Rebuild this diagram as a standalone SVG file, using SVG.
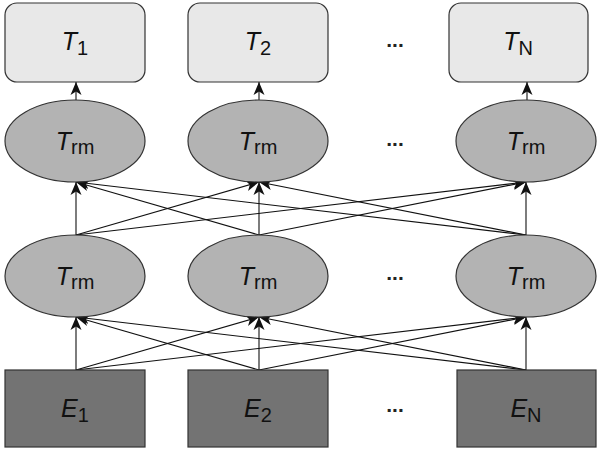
<svg xmlns="http://www.w3.org/2000/svg" width="598" height="452" viewBox="0 0 598 452">
<defs>
<marker id="ah" markerUnits="userSpaceOnUse" markerWidth="14" markerHeight="12" refX="13" refY="6" orient="auto" viewBox="0 0 14 12">
<path d="M0,0.5 L13,6 L0,11.5 L3.5,6 z" fill="#111"/>
</marker>
<style>
.out{fill:#e8e8e8;stroke:#333;stroke-width:1.2}
.trm{fill:#b3b3b3;stroke:#333;stroke-width:1.2}
.emb{fill:#737373;stroke:#333;stroke-width:1.2}
.lbl{font-family:"Liberation Sans",Arial,sans-serif;font-size:25px;fill:#111;text-anchor:middle}
.m{font-style:italic}
.sub{font-size:20px}
.dots{font-family:"Liberation Sans",Arial,sans-serif;font-size:21px;font-weight:bold;fill:#222;text-anchor:middle}
.c line{stroke:#111;stroke-width:1.1;marker-end:url(#ah)}
</style>
</defs>
<rect width="598" height="452" fill="#fff"/>
<g class="c" id="connectors">
<line x1="76" y1="100" x2="76" y2="82"/>
<line x1="259" y1="100" x2="259" y2="82"/>
<line x1="527" y1="100" x2="527" y2="82"/>
<line x1="76" y1="235" x2="76" y2="182"/>
<line x1="76" y1="235" x2="259" y2="182"/>
<line x1="76" y1="235" x2="526" y2="182"/>
<line x1="259" y1="235" x2="76" y2="182"/>
<line x1="259" y1="235" x2="259" y2="182"/>
<line x1="259" y1="235" x2="526" y2="182"/>
<line x1="526" y1="235" x2="76" y2="182"/>
<line x1="526" y1="235" x2="259" y2="182"/>
<line x1="526" y1="235" x2="526" y2="182"/>
<line x1="76" y1="370" x2="76" y2="317"/>
<line x1="76" y1="370" x2="259" y2="317"/>
<line x1="76" y1="370" x2="526" y2="317"/>
<line x1="259" y1="370" x2="76" y2="317"/>
<line x1="259" y1="370" x2="259" y2="317"/>
<line x1="259" y1="370" x2="526" y2="317"/>
<line x1="526" y1="370" x2="76" y2="317"/>
<line x1="526" y1="370" x2="259" y2="317"/>
<line x1="526" y1="370" x2="526" y2="317"/>
</g>
<g id="T1"><rect class="out" x="5" y="3" width="140" height="79" rx="12"/><text class="lbl" x="75" y="50"><tspan class="m">T</tspan><tspan class="sub" dy="5">1</tspan></text></g>
<g id="T2"><rect class="out" x="188" y="3" width="140" height="79" rx="12"/><text class="lbl" x="258" y="50"><tspan class="m">T</tspan><tspan class="sub" dy="5">2</tspan></text></g>
<g id="TN"><rect class="out" x="449" y="3" width="139" height="79" rx="12"/><text class="lbl" x="518" y="50"><tspan class="m">T</tspan><tspan class="sub" dy="5">N</tspan></text></g>
<g id="Trm11"><ellipse class="trm" cx="75" cy="141" rx="70" ry="41"/><text class="lbl" x="75" y="150"><tspan class="m">T</tspan><tspan class="sub" dy="4">rm</tspan></text></g>
<g id="Trm12"><ellipse class="trm" cx="258" cy="141" rx="70" ry="41"/><text class="lbl" x="258" y="150"><tspan class="m">T</tspan><tspan class="sub" dy="4">rm</tspan></text></g>
<g id="Trm1N"><ellipse class="trm" cx="526" cy="141" rx="70" ry="41"/><text class="lbl" x="526" y="150"><tspan class="m">T</tspan><tspan class="sub" dy="4">rm</tspan></text></g>
<g id="Trm21"><ellipse class="trm" cx="75" cy="276" rx="70" ry="41"/><text class="lbl" x="75" y="285"><tspan class="m">T</tspan><tspan class="sub" dy="4">rm</tspan></text></g>
<g id="Trm22"><ellipse class="trm" cx="258" cy="276" rx="70" ry="41"/><text class="lbl" x="258" y="285"><tspan class="m">T</tspan><tspan class="sub" dy="4">rm</tspan></text></g>
<g id="Trm2N"><ellipse class="trm" cx="526" cy="276" rx="70" ry="41"/><text class="lbl" x="526" y="285"><tspan class="m">T</tspan><tspan class="sub" dy="4">rm</tspan></text></g>
<g id="E1"><rect class="emb" x="5" y="370" width="140" height="77"/><text class="lbl" x="75" y="417"><tspan class="m">E</tspan><tspan class="sub" dy="5">1</tspan></text></g>
<g id="E2"><rect class="emb" x="188" y="370" width="140" height="77"/><text class="lbl" x="258" y="417"><tspan class="m">E</tspan><tspan class="sub" dy="5">2</tspan></text></g>
<g id="EN"><rect class="emb" x="457" y="370" width="139" height="77"/><text class="lbl" x="526" y="417"><tspan class="m">E</tspan><tspan class="sub" dy="5">N</tspan></text></g>
<g id="dots">
<text class="dots" x="395" y="47">...</text>
<text class="dots" x="395" y="146">...</text>
<text class="dots" x="395" y="280">...</text>
<text class="dots" x="395" y="412">...</text>
</g>
</svg>
